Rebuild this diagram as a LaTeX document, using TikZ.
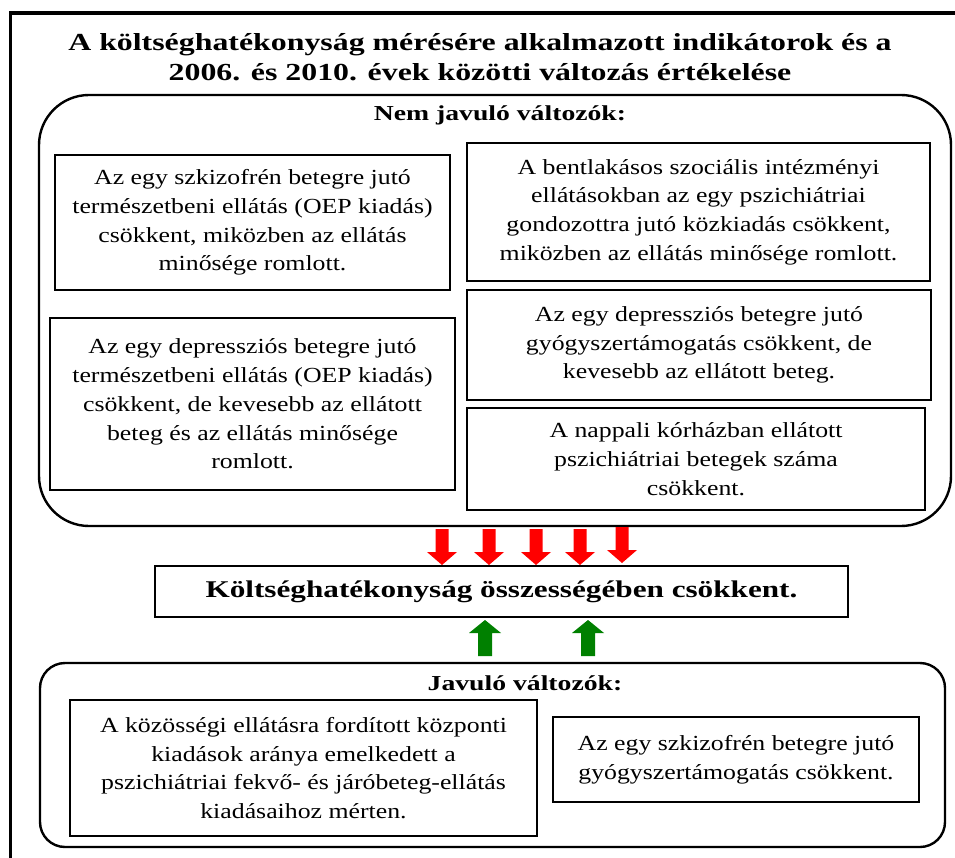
\documentclass[tikz,border=0pt]{standalone}
\usepackage{fontspec}
\setmainfont{Liberation Serif}[FakeStretch=1.2, BoldFeatures={FakeStretch=1.3}]
\definecolor{arrred}{RGB}{255,0,0}
\definecolor{arrgreen}{RGB}{0,128,0}
\tikzset{
  txt/.style={font=\fontsize{21.5}{28.7}\selectfont},
  box/.style={draw=black, line width=1.4pt, inner sep=0pt, align=center, txt},
  group/.style={draw=black, line width=2.4pt, inner sep=0pt},
  head/.style={font=\bfseries\fontsize{21.3}{26}\selectfont, inner sep=0pt},
  downarr/.pic={\fill[arrred] (-6.5,0) -- (6.5,0) -- (6.5,23) -- (15,23) -- (0,36) -- (-15,23) -- (-6.5,23) -- cycle;},
  uparr/.pic={\fill[arrgreen] (0,0) -- (16,13) -- (7,13) -- (7,36) -- (-7,36) -- (-7,13) -- (-16,13) -- cycle;}
}
\begin{document}
\begin{tikzpicture}[x=1pt,y=-1pt]
\useasboundingbox (0,0) rectangle (955,858);
% outer frame (cropped)
\draw[line width=3.5pt] (10.5,858) coordinate (fb) -- (10.5,13) coordinate (fc) -- (955,13) coordinate (fr);
% title
\node[font=\bfseries\fontsize{24.5}{30}\selectfont, align=center, inner sep=0pt] (title) at (480,57)
  {A költséghatékonyság mérésére alkalmazott indikátorok és a\\2006. és 2010. évek közötti változás értékelése};
% upper group
\node[group, rounded corners=50pt, minimum width=912pt, minimum height=431pt] (upper) at (495,310.5) {};
\node[head] (uhead) at (500,115) {Nem javuló változók:};
\node[box, minimum width=395pt, minimum height=135pt] (b1) at (252.5,222.5)
  {Az egy szkizofrén betegre jutó\\természetbeni ellátás (OEP kiadás)\\csökkent, miközben az ellátás\\minősége romlott.};
\node[box, minimum width=463pt, minimum height=138pt] (b2) at (698.5,212)
  {A bentlakásos szociális intézményi\\ellátásokban az egy pszichiátriai\\gondozottra jutó közkiadás csökkent,\\miközben az ellátás minősége romlott.};
\node[box, minimum width=405pt, minimum height=172pt] (b3) at (252.5,404)
  {Az egy depressziós betegre jutó\\természetbeni ellátás (OEP kiadás)\\csökkent, de kevesebb az ellátott\\beteg és az ellátás minősége\\romlott.};
\node[box, minimum width=464pt, minimum height=110pt] (b4) at (699,345)
  {Az egy depressziós betegre jutó\\gyógyszertámogatás csökkent, de\\kevesebb az ellátott beteg.};
\node[box, minimum width=458pt, minimum height=102pt] (b5) at (696,459)
  {A nappali kórházban ellátott\\pszichiátriai betegek száma\\csökkent.};
% arrows
\pic at (442,529) {downarr};
\pic at (489,529) {downarr};
\pic at (536,529) {downarr};
\pic at (580,529) {downarr};
\pic at (622,527) {downarr};
% central box
\node[box, line width=1.8pt, font=\bfseries\fontsize{24}{28}\selectfont, minimum width=693pt, minimum height=51pt] (mid) at (501.5,591.5)
  {Költséghatékonyság összességében csökkent.};
\pic at (485,620) {uparr};
\pic at (588,620) {uparr};
% lower group
\node[group, rounded corners=25pt, minimum width=905pt, minimum height=184pt] (lower) at (492.5,755) {};
\node[head] (lhead) at (525,683) {Javuló változók:};
\node[box, minimum width=467pt, minimum height=136pt] (l1) at (303.5,768)
  {A közösségi ellátásra fordított központi\\kiadások aránya emelkedett a\\pszichiátriai fekvő- és járóbeteg-ellátás\\kiadásaihoz mérten.};
\node[box, minimum width=366pt, minimum height=85pt] (l2) at (736,759.5)
  {Az egy szkizofrén betegre jutó\\gyógyszertámogatás csökkent.};
\end{tikzpicture}
\end{document}
